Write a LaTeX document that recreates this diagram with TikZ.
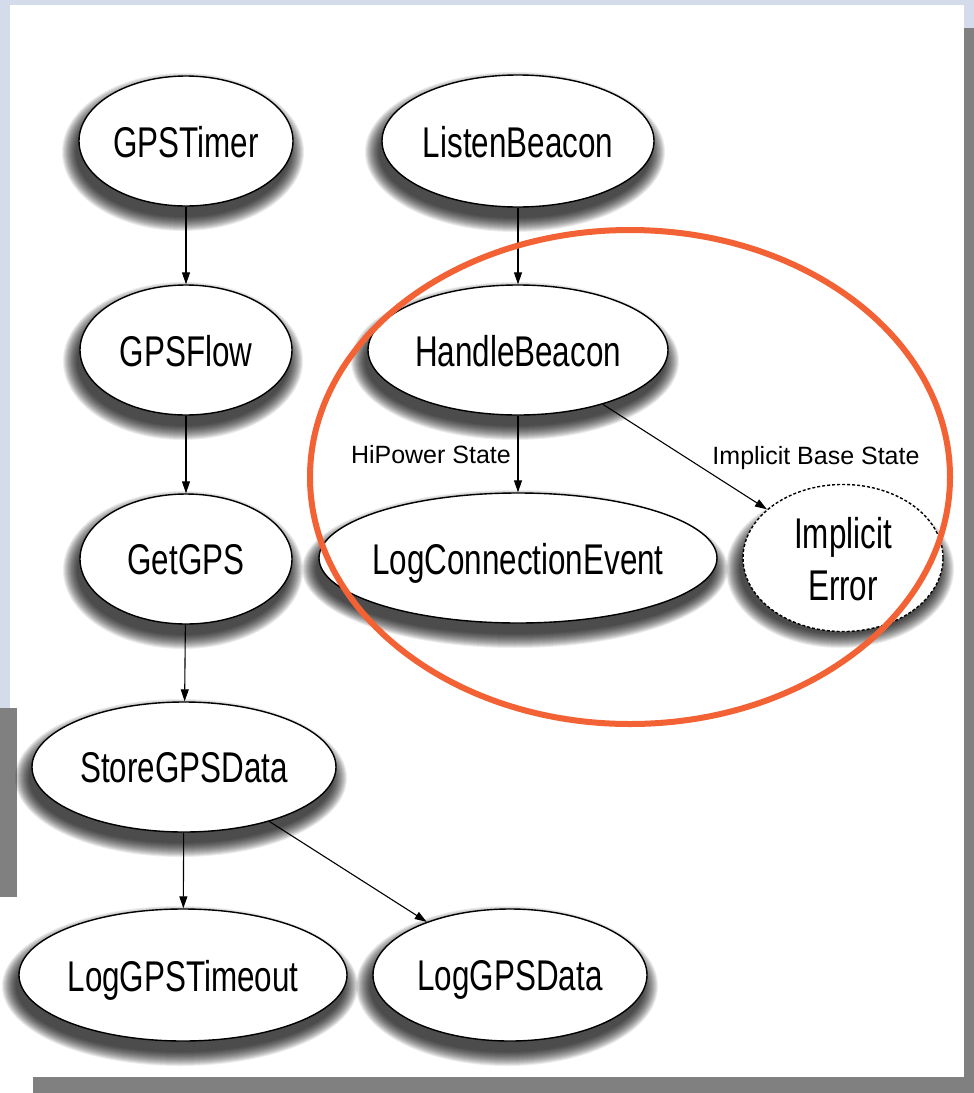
\documentclass[tikz,border=0pt]{standalone}
\usepackage{fontspec}
\setmainfont{Liberation Sans}
\newfontfamily\nodefont[FakeStretch=0.73]{Liberation Sans}
\usetikzlibrary{shapes.geometric,arrows.meta}
\pgfdeclarelayer{bg}
\pgfdeclarelayer{shad}
\pgfsetlayers{bg,shad,main}
\definecolor{bgblue}{RGB}{212,220,236}
\definecolor{panelgray}{RGB}{128,128,128}
\definecolor{ring}{RGB}{242,98,52}
\newcommand\nodeshadow[4]{%
  \begin{pgfonlayer}{shad}
    \foreach \dd in {14,13,...,0}{%
      \fill[black,opacity=0.075] (#1-3,#2+11) ellipse [x radius={(#3+\dd)*1pt}, y radius={(#4+\dd)*1pt}];}
  \end{pgfonlayer}}
\newcommand\lbl[1]{\makebox[0pt]{\raisebox{-5pt}[\height][\depth]{\vphantom{Ag}#1}}}
\begin{document}
\begin{tikzpicture}[x=1pt,y=-1pt,
  gnode/.style={ellipse,draw=black,line width=1.4pt,fill=white,inner sep=0pt,
    font=\nodefont\fontsize{43}{55}\selectfont},
  edge/.style={line width=1.1pt,-{Triangle[length=12pt,width=8pt]}},
  elabel/.style={font=\fontsize{25}{30}\selectfont,inner sep=0pt}]
\useasboundingbox (0,0) rectangle (974,1093);
\begin{pgfonlayer}{bg}
  \fill[white] (0,0) rectangle (974,1093);
  \fill[bgblue] (0,0) rectangle (974,5);
  \fill[bgblue] (0,0) rectangle (10,708);
  \fill[bgblue] (964,0) rectangle (974,28);
  \fill[panelgray] (964,28) rectangle (974,1093);
  \fill[panelgray] (33,1077) rectangle (974,1093);
  \fill[panelgray] (0,708) rectangle (17,897);
\end{pgfonlayer}

% nodes
\node[gnode,minimum width=214pt,minimum height=130pt] (gt) at (186,141) {\lbl{GPSTimer}};
\node[gnode,minimum width=272pt,minimum height=132pt] (lb) at (518,141) {\lbl{ListenBeacon}};
\node[gnode,minimum width=212pt,minimum height=130pt] (gf) at (186,350) {\lbl{GPSFlow}};
\node[gnode,minimum width=300pt,minimum height=130pt] (hb) at (518,350) {\lbl{HandleBeacon}};
\node[gnode,minimum width=212pt,minimum height=130pt] (gg) at (186,559) {\lbl{GetGPS}};
\node[gnode,minimum width=398pt,minimum height=130pt] (lc) at (518,558) {\lbl{LogConnectionEvent}};
\node[gnode,dash pattern=on 3pt off 2pt,minimum width=200pt,minimum height=130pt,
  font=\nodefont\fontsize{43}{52}\selectfont] (ie) at (843,558)
  {\makebox[0pt]{\raisebox{-6pt}[\height][\depth]{\begin{tabular}{@{}c@{}}Implicit\\Error\end{tabular}}}};
\node[gnode,minimum width=304pt,minimum height=130pt] (sd) at (184,767) {\lbl{StoreGPSData}};
\node[gnode,minimum width=328pt,minimum height=132pt] (lt) at (183,975) {\lbl{LogGPSTimeout}};
\node[gnode,minimum width=274pt,minimum height=132pt] (ld) at (510,975) {\lbl{LogGPSData}};

% shadows
\nodeshadow{186}{141}{107}{65}
\nodeshadow{518}{141}{136}{66}
\nodeshadow{186}{350}{106}{65}
\nodeshadow{518}{350}{150}{65}
\nodeshadow{186}{559}{106}{65}
\nodeshadow{518}{558}{199}{65}
\nodeshadow{843}{558}{100}{65}
\nodeshadow{184}{767}{152}{65}
\nodeshadow{183}{975}{164}{66}
\nodeshadow{510}{975}{137}{66}

% edges
\draw[edge] (gt) -- (gf);
\draw[edge] (gf) -- (gg);
\draw[edge] (gg) -- (sd);
\draw[edge] (sd) -- (lt);
\draw[edge] (sd) -- (ld);
\draw[edge] (lb) -- (hb);
\draw[edge] (hb) -- (lc);
\draw[edge] (hb) -- (ie);

% edge labels
\node[elabel,anchor=base east] (l1) at (511,463) {HiPower State};
\node[elabel,anchor=base] (l2) at (816,464) {Implicit Base State};

% highlight ring
\draw[ring,line width=6pt] (630,477) ellipse [x radius=320pt, y radius=247pt];
\end{tikzpicture}
\end{document}
